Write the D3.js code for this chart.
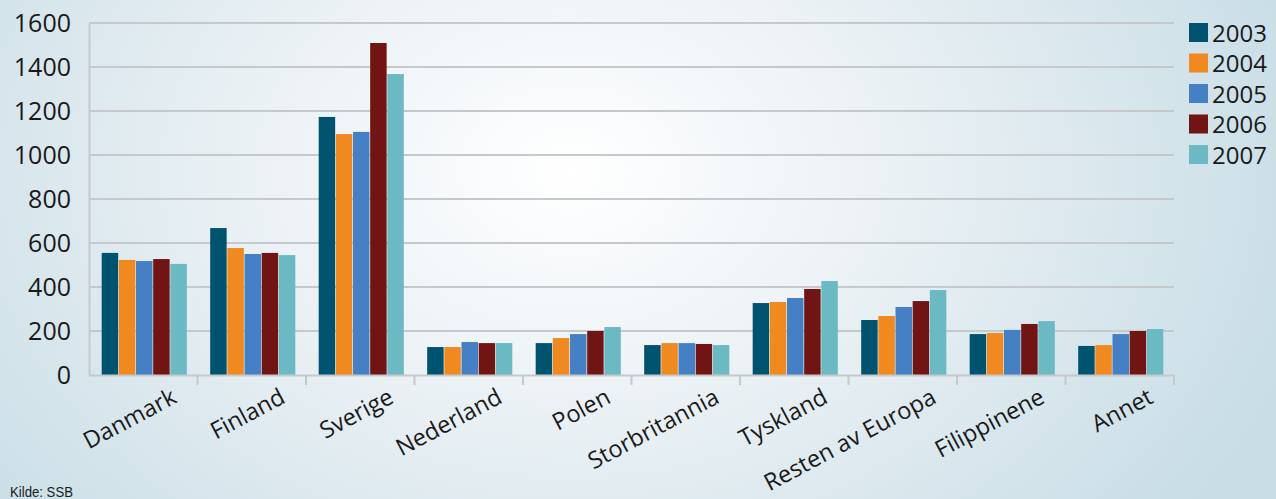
<!DOCTYPE html>
<html><head><meta charset="utf-8">
<script src="https://cdn.jsdelivr.net/npm/d3@7"></script>
<style>html,body{margin:0;padding:0;overflow:hidden;}svg{display:block;}</style>
</head><body>
<script>
const categories = ["Danmark","Finland","Sverige","Nederland","Polen","Storbritannia","Tyskland","Resten av Europa","Filippinene","Annet"];
const years = ["2003","2004","2005","2006","2007"];
const s2003 = [555, 668, 1173, 127, 145, 136, 327, 250, 186, 132];
const s2004 = [523, 577, 1095, 127, 168, 145, 332, 268, 191, 136];
const s2005 = [518, 550, 1105, 150, 186, 145, 350, 309, 205, 186];
const s2006 = [527, 555, 1509, 145, 200, 141, 391, 336, 232, 200];
const s2007 = [505, 545, 1368, 145, 218, 136, 427, 386, 245, 209];
const yTicks = [0,200,400,600,800,1000,1200,1400,1600];
const colors = ["#00536e","#f0891f","#4480c3","#701414","#6bb9c3"];
const series = [s2003,s2004,s2005,s2006,s2007];

const W = 1276, H = 499;
const m = {left: 89, right: 1174, top: 23, bottom: 375};
const FONT = "'Open Sans', sans-serif";
const svg = d3.select("body").append("svg").attr("width", W).attr("height", H);
const defs = svg.append("defs");
const rg = defs.append("radialGradient").attr("id","bg").attr("gradientUnits","userSpaceOnUse")
  .attr("cx", 570).attr("cy", 170).attr("r", 760)
  .attr("gradientTransform","translate(570,170) scale(1,0.75) translate(-570,-170)");
rg.append("stop").attr("offset","0").attr("stop-color","#ffffff");
rg.append("stop").attr("offset","0.45").attr("stop-color","#e9f0f4");
rg.append("stop").attr("offset","1").attr("stop-color","#c8dde6");
svg.append("rect").attr("width",W).attr("height",H).attr("fill","url(#bg)");

const x0 = d3.scaleBand().domain(categories).range([m.left, m.right]).paddingInner(0).paddingOuter(0);
const x1 = d3.scaleBand().domain(years).range([12, x0.bandwidth()-10]).padding(0.04);
const y = d3.scaleLinear().domain([0,1600]).range([m.bottom, m.top]);
const gridColor = "#c6c9cc";

// gridlines
svg.append("g").selectAll("line").data(yTicks.filter(d=>d>0)).join("line")
  .attr("x1", m.left).attr("x2", m.right).attr("y1", d=>y(d)).attr("y2", d=>y(d))
  .attr("stroke",gridColor).attr("stroke-width",2);

// y axis
const yAxis = svg.append("g").attr("transform",`translate(${m.left},0)`)
  .call(d3.axisLeft(y).tickValues(yTicks).tickFormat(d3.format("d")).tickSize(0).tickPadding(18));
yAxis.select(".domain").attr("stroke",gridColor).attr("stroke-width",2);
yAxis.selectAll("text").attr("font-family",FONT).attr("font-size",25).attr("fill","#1a1a1a");

// bars
const groups = svg.append("g").selectAll("g").data(categories).join("g")
  .attr("transform", d=>`translate(${x0(d)},0)`);
groups.selectAll("rect").data((c,i)=>years.map((yr,j)=>({yr, v: series[j][i], j}))).join("rect")
  .attr("x", d=>x1(d.yr)).attr("width", x1.bandwidth())
  .attr("y", d=>y(d.v)).attr("height", d=>y(0)-y(d.v))
  .attr("fill", d=>colors[d.j]);

// x axis
const xAxis = svg.append("g").attr("transform",`translate(0,${m.bottom})`)
  .call(d3.axisBottom(x0).tickSize(0).tickFormat(""));
xAxis.select(".domain").attr("stroke",gridColor).attr("stroke-width",2);
const bounds = d3.range(categories.length+1).map(i=>m.left + i*x0.step());
svg.append("g").selectAll("line").data(bounds.slice(1)).join("line")
  .attr("x1",d=>d).attr("x2",d=>d).attr("y1",m.bottom).attr("y2",m.bottom+10)
  .attr("stroke",gridColor).attr("stroke-width",2);

svg.append("g").selectAll("text").data(categories).join("text")
  .attr("transform", d=>`translate(${x0(d)+x0.bandwidth()/2+35},${m.bottom+27}) rotate(-28)`)
  .attr("text-anchor","end")
  .attr("font-family",FONT).attr("font-size",23.5).attr("fill","#1a1a1a")
  .text(d=>d);

// legend
const lg = svg.append("g").attr("transform","translate(1189,23)");
const li = lg.selectAll("g").data(years).join("g").attr("transform",(d,i)=>`translate(0,${i*30.5})`);
li.append("rect").attr("width",19).attr("height",19).attr("fill",(d,i)=>colors[i]);
li.append("text").attr("x",23).attr("y",10).attr("dy","0.36em")
  .attr("font-family",FONT).attr("font-size",24).attr("fill","#1a1a1a").text(d=>d);

svg.append("text").attr("x",10).attr("y",497)
  .attr("font-family","'Liberation Sans Narrow', 'Liberation Sans', sans-serif").attr("font-size",15)
  .attr("textLength",63).attr("lengthAdjust","spacingAndGlyphs")
  .attr("fill","#1a1a1a").text("Kilde: SSB");
</script>
</body></html>
